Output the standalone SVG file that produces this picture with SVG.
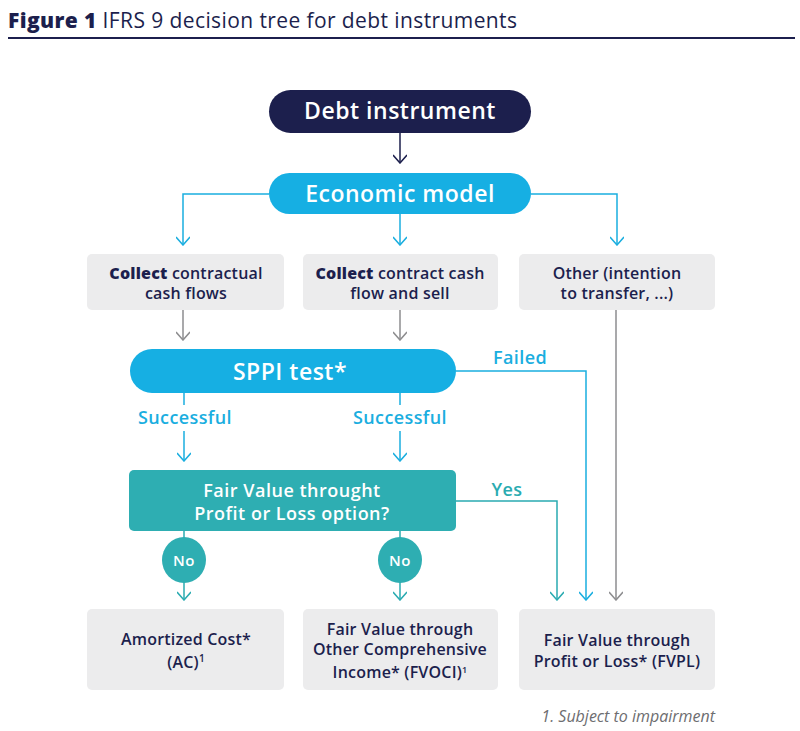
<svg xmlns="http://www.w3.org/2000/svg" width="800" height="731" viewBox="0 0 800 731">
<style>
text{font-family:"Open Sans","Noto Sans","DejaVu Sans",sans-serif;}
.navy{fill:#1c1f4d}
.w{fill:#ffffff;font-weight:600;text-anchor:middle;letter-spacing:0.5px}
.box{fill:#ececed}
.bt{fill:#1c1f4d;font-size:16px;font-weight:600;text-anchor:middle;letter-spacing:0.2px}
.b{font-weight:800}
.cy{stroke:#1aaedf;stroke-width:1.5;fill:none}
.gr{stroke:#8d8d8f;stroke-width:1.5;fill:none}
.tl{stroke:#2aabb1;stroke-width:1.5;fill:none}
.dk{stroke:#1c1f4d;stroke-width:1.5;fill:none}
.lblc{fill:#1aaedf;font-size:18px;font-weight:600;text-anchor:middle;letter-spacing:0.4px}
.lblt{fill:#2aabb1;font-size:18px;font-weight:600;text-anchor:middle;letter-spacing:0.4px}
</style>
<defs>
<marker id="ac" viewBox="0 0 14 10" refX="7" refY="9" markerWidth="14" markerHeight="10" markerUnits="userSpaceOnUse"><path d="M0,1 L7,9 L14,1" fill="none" stroke="#1aaedf" stroke-width="1.5"/></marker>
<marker id="ag" viewBox="0 0 14 10" refX="7" refY="9" markerWidth="14" markerHeight="10" markerUnits="userSpaceOnUse"><path d="M0,1 L7,9 L14,1" fill="none" stroke="#8d8d8f" stroke-width="1.5"/></marker>
<marker id="at" viewBox="0 0 14 10" refX="7" refY="9" markerWidth="14" markerHeight="10" markerUnits="userSpaceOnUse"><path d="M0,1 L7,9 L14,1" fill="none" stroke="#2aabb1" stroke-width="1.5"/></marker>
<marker id="ad" viewBox="0 0 14 10" refX="7" refY="9" markerWidth="14" markerHeight="10" markerUnits="userSpaceOnUse"><path d="M0,1 L7,9 L14,1" fill="none" stroke="#1c1f4d" stroke-width="1.5"/></marker>
</defs>

<g id="title">
<text x="8" y="28" font-size="21" class="navy" letter-spacing="0.4"><tspan font-weight="800">Figure 1</tspan> IFRS 9 decision tree for debt instruments</text>
<rect x="8" y="37" width="787" height="2" fill="#1c1f4d"/>
</g>

<g id="connectors">
<path class="dk" d="M400,133 V163" marker-end="url(#ad)"/>
<path class="cy" d="M269,194 H183 V245" marker-end="url(#ac)"/>
<path class="cy" d="M400,214 V245" marker-end="url(#ac)"/>
<path class="cy" d="M531,194 H617 V245" marker-end="url(#ac)"/>
<path class="gr" d="M183,310 V340" marker-end="url(#ag)"/>
<path class="gr" d="M400,310 V340" marker-end="url(#ag)"/>
<path class="gr" d="M616,310 V600" marker-end="url(#ag)"/>
<path class="cy" d="M456,371 H586 V600" marker-end="url(#ac)"/>
<path class="cy" d="M184,393 V405"/>
<path class="cy" d="M400,393 V405"/>
<path class="cy" d="M184,431 V461" marker-end="url(#ac)"/>
<path class="cy" d="M400,431 V461" marker-end="url(#ac)"/>
<path class="tl" d="M456,501 H557 V600" marker-end="url(#at)"/>
<path class="tl" d="M184,531 V540"/>
<path class="tl" d="M400,531 V540"/>
<path class="tl" d="M184,580 V600" marker-end="url(#at)"/>
<path class="tl" d="M400,580 V600" marker-end="url(#at)"/>
<text class="lblc" x="520" y="364">Failed</text>
<text class="lblc" x="185" y="424">Successful</text>
<text class="lblc" x="400" y="424">Successful</text>
<text class="lblt" x="507" y="496">Yes</text>
</g>

<g id="debt">
<rect x="269" y="90" width="262" height="43" rx="21.5" fill="#1c1f4d"/>
<text class="w" x="400" y="119" font-size="23">Debt instrument</text>
</g>
<g id="economic">
<rect x="269" y="173" width="262" height="41" rx="20.5" fill="#16afe3"/>
<text class="w" x="400" y="202" font-size="23">Economic model</text>
</g>

<g id="collect">
<rect class="box" x="87" y="254" width="197" height="56" rx="5"/>
<text class="bt" x="186" y="279"><tspan class="b">Collect</tspan> contractual</text>
<text class="bt" x="186" y="299">cash flows</text>
</g>
<g id="collectsell">
<rect class="box" x="303" y="254" width="195" height="56" rx="5"/>
<text class="bt" x="400" y="279"><tspan class="b">Collect</tspan> contract cash</text>
<text class="bt" x="400" y="299">flow and sell</text>
</g>
<g id="other">
<rect class="box" x="519" y="254" width="196" height="56" rx="5"/>
<text class="bt" x="617" y="279">Other (intention</text>
<text class="bt" x="617" y="299">to transfer, ...)</text>
</g>

<g id="sppi">
<rect x="130" y="349" width="326" height="44" rx="22" fill="#16afe3"/>
<text class="w" x="290" y="380" font-size="23">SPPI test*</text>
</g>

<g id="fvplq">
<rect x="129" y="470" width="327" height="61" rx="5" fill="#2eaeb2"/>
<text class="w" x="292" y="497" font-size="18">Fair Value throught</text>
<text class="w" x="292" y="520" font-size="18">Profit or Loss option?</text>
</g>

<g id="no1">
<ellipse cx="184" cy="560" rx="22" ry="23" fill="#2eaeb2"/>
<text class="w" x="184" y="566" font-size="15">No</text>
</g>
<g id="no2">
<ellipse cx="400" cy="560" rx="22" ry="23" fill="#2eaeb2"/>
<text class="w" x="400" y="566" font-size="15">No</text>
</g>

<g id="ac-box">
<rect class="box" x="87" y="609" width="197" height="81" rx="5"/>
<text class="bt" x="186" y="645">Amortized Cost*</text>
<text class="bt" x="186" y="668">(AC)<tspan font-size="10" dy="-6">1</tspan></text>
</g>
<g id="fvoci">
<rect class="box" x="303" y="609" width="195" height="81" rx="5"/>
<text class="bt" x="400" y="635">Fair Value through</text>
<text class="bt" x="400" y="655">Other Comprehensive</text>
<text class="bt" x="400" y="678">Income* (FVOCI)<tspan font-size="9" dy="-5">1</tspan></text>
</g>
<g id="fvpl">
<rect class="box" x="519" y="609" width="196" height="81" rx="5"/>
<text class="bt" x="617" y="646">Fair Value through</text>
<text class="bt" x="617" y="667">Profit or Loss* (FVPL)</text>
</g>

<text x="715" y="722" font-size="16" font-style="italic" fill="#6d6d70" text-anchor="end">1. Subject to impairment</text>
</svg>
